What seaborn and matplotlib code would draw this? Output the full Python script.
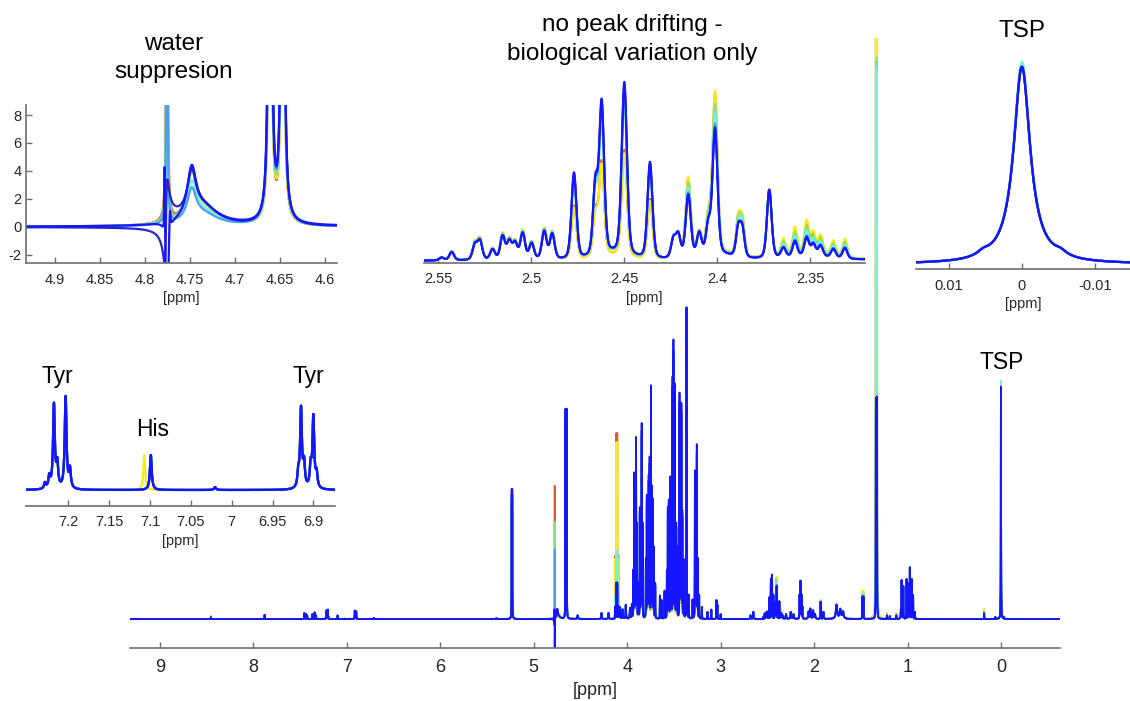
import numpy as np
import pandas as pd
import matplotlib
matplotlib.use("Agg")
import matplotlib.pyplot as plt
import seaborn as sns
from matplotlib.ticker import FixedLocator, FixedFormatter

sns.set_theme(style="white")
plt.rcParams["font.family"] = ["Liberation Sans", "DejaVu Sans"]
plt.rcParams["axes.unicode_minus"] = False
plt.rcParams["path.simplify"] = False

# ---------------- data ----------------
sample_names = ["S1", "S2", "S3", "S4", "S5", "S6", "S7"]
sample_colors = ["#e2592a", "#f5ee14", "#7ee08a", "#70f3e2", "#4c9ef2", "#2626c8", "#1515ff"]

# per-sample scale of each metabolite group (order = sample_names)
scale_base = [1, 1, 1, 1, 1, 1, 1]
scale_tsp = [1.0, 1.015, 1.02, 1.025, 1.0, 1.0, 1.0]
scale_glc = [0.75, 0.78, 0.85, 0.9, 0.93, 0.96, 1.0]
scale_lacd = [5.2, 5.0, 2.52, 2.48, 0.92, 0.95, 1.0]
scale_lacq = [5.1, 4.85, 1.7, 1.87, 0.9, 0.95, 1.0]
scale_hump = [0.97, 0.9, 0.92, 0.75, 0.63, 0.86, 1.0]
scale_gln = [0.62, 0.6, 0.88, 0.92, 0.95, 0.98, 1.0]
scale_glu = [1.28, 1.3, 1.2, 1.13, 1.05, 1.02, 1.0]
scale_mid3 = [1.6, 1.8, 1.5, 1.3, 1.1, 1.05, 1.0]
scale_mid4 = [1.1, 1.12, 1.08, 1.05, 1.02, 1.0, 1.0]
scale_ala = [1.1, 1.25, 1.1, 1.1, 1.0, 1.0, 1.0]
scale_minor = [1.5, 1.8, 1.3, 1.2, 1.0, 1.0, 1.0]
scale_his = [1.0, 1.0, 1.0, 1.02, 1.0, 1.0, 1.0]
scale_water = [58.6, 35.0, 42.7, 22.0, 30.6, 0.0, -40.0]
scale_wblue = [0, 0, 0, 0, 0, 0, 1.0]
his_shift = [0.0, 0.008, 0.0, 0.0, 0.0, 0.0, 0.0]
water_disp = [0, 0, 0, 0, 0, 6.0, 0]
water_disp_ppm = 4.7765
water_disp_width = 0.0015

# peak blocks: position [ppm], height (TSP = 100), half width [ppm], group
aro_ppm = [8.455, 7.88, 7.455, 7.44, 7.425, 7.37, 7.345, 7.33]
aro_h = [0.8, 1.8, 2.5, 2.2, 1.5, 2.0, 2.8, 1.5]
aro_w = [0.0015] * 8
aro_g = ["minor"] + ["base"] * 7

tyr_ppm = [7.2286, 7.2233, 7.2176, 7.2135, 7.2033, 7.198, 6.9184, 6.9151, 6.9114, 6.9033, 6.900, 6.896]
tyr_h = [0.25, 0.5, 3.6, 1.0, 3.95, 0.8, 0.6, 3.4, 1.0, 0.9, 3.05, 0.6]
tyr_w = [0.0013] * 12
tyr_g = ["base"] * 12

his_ppm = [7.099, 7.0204, 6.71, 5.40]
his_h = [1.5, 0.12, 0.5, 0.3]
his_w = [0.0013, 0.0015, 0.0015, 0.003]
his_g = ["his", "base", "base", "base"]

ano_ppm = [5.236, 5.230, 4.661, 4.647]
ano_h = [54, 54, 90, 90]
ano_w = [0.0012, 0.0012, 0.0011, 0.0011]
ano_g = ["glc"] * 4

wat_ppm = [4.7755, 4.778, 4.7722, 4.748, 4.735]
wat_h = [1.0, 6.0, 1.8, 3.5, 1.3]
wat_w = [0.0006, 0.0005, 0.0008, 0.006, 0.02]
wat_g = ["water", "wblue", "wblue", "hump", "hump"]

sm4_ppm = [4.53, 4.275, 4.20, 4.08, 4.05, 4.015, 3.97, 3.95]
sm4_h = [1.5, 2.5, 2.5, 5.0, 4.0, 6.0, 4.5, 6.0]
sm4_w = [0.004, 0.003, 0.003, 0.003, 0.003, 0.003, 0.003, 0.002]
sm4_g = ["base"] * 8

lacq_ppm = [4.1295, 4.1178, 4.1062, 4.0945]
lacq_h = [5.2, 15.5, 15.5, 5.2]
lacq_w = [0.0011] * 4
lacq_g = ["lacq"] * 4

ring_ppm = [3.935, 3.925, 3.915, 3.905, 3.895, 3.88, 3.865, 3.855, 3.845, 3.835,
            3.80, 3.79, 3.78, 3.77, 3.76, 3.745, 3.735, 3.725, 3.715, 3.70,
            3.65, 3.63, 3.60, 3.575, 3.565, 3.555, 3.54, 3.53, 3.515, 3.505,
            3.49, 3.475, 3.465, 3.44, 3.43, 3.42, 3.41, 3.395,
            3.275, 3.265, 3.255, 3.245]
ring_h = [20, 62, 30, 77, 40, 15, 47, 35, 83, 40,
          25, 52, 45, 60, 68, 99, 55, 50, 30, 15,
          10, 8, 12, 20, 47, 50, 60, 35, 102, 118,
          100, 40, 30, 96, 60, 91, 45, 25,
          63, 50, 74, 25]
ring_w = [0.0012] * 42
ring_g = ["glc"] * 42

oth_ppm = [3.365, 3.34, 3.30, 3.23, 3.20, 3.14, 3.10, 3.045, 3.035, 3.0, 2.68, 2.65]
oth_h = [134, 10, 8, 10, 5, 3, 4, 8, 6, 2, 1.5, 3]
oth_w = [0.0012] * 10 + [0.003, 0.003]
oth_g = ["base"] * 12

m4_ppm = [2.5482, 2.5428, 2.5303, 2.5276, 2.5208, 2.5154, 2.5118, 2.5087, 2.5046, 2.4998, 2.4930, 2.4887]
m4_h = [0.3, 0.9, 1.6, 2.0, 1.1, 2.5, 1.9, 1.7, 2.8, 1.7, 3.0, 2.7]
m4_w = [0.0015] * 12
m4_g = ["mid4"] * 12

gln_ppm = [2.4770, 2.4655, 2.4621, 2.4499, 2.4361, 2.456]
gln_h = [9.3, 7.5, 16.3, 18.6, 10.4, 0.6]
gln_w = [0.0016, 0.0015, 0.0016, 0.0017, 0.0016, 0.01]
gln_g = ["gln"] * 6

mb_ppm = [2.4235, 2.4209, 2.4096, 2.3719]
mb_h = [2.0, 2.4, 2.4, 7.4]
mb_w = [0.0015] * 4
mb_g = ["base"] * 4

glu_ppm = [2.4155, 2.4047, 2.4011, 2.3886, 2.3864, 2.40]
glu_h = [6.6, 3.0, 13.3, 3.0, 2.9, 0.5]
glu_w = [0.0016, 0.0015, 0.0016, 0.0014, 0.0014, 0.012]
glu_g = ["glu"] * 6

m3_ppm = [2.3643, 2.3581, 2.3518, 2.3482, 2.3443, 2.3374, 2.3312, 2.35]
m3_h = [1.0, 1.6, 1.9, 1.2, 1.1, 0.9, 1.1, 0.4]
m3_w = [0.0015] * 7 + [0.015]
m3_g = ["mid3"] * 8

low_ppm = [2.30, 2.25, 2.22, 2.155, 2.145, 2.135, 2.125, 2.06, 2.04, 2.01, 1.99, 1.93, 1.90, 1.76, 1.72, 1.69]
low_h = [2, 3, 2, 10, 16, 10, 5, 3, 4.3, 3.5, 2, 7.3, 3, 6, 4, 3]
low_w = [0.004, 0.004, 0.004, 0.0015, 0.0015, 0.0015, 0.0015, 0.004, 0.004, 0.004, 0.004,
         0.0015, 0.003, 0.008, 0.008, 0.008]
low_g = ["base"] * 11 + ["mid4"] + ["base"] * 4

lac_ppm = [1.4835, 1.4715, 1.3385, 1.3268]
lac_h = [9.7, 9.7, 95, 95]
lac_w = [0.0012] * 4
lac_g = ["ala", "ala", "lacd", "lacd"]

bca_ppm = [1.22, 1.19, 1.12, 1.07, 1.063, 1.045, 1.01, 0.99, 0.975, 0.955, 0.94, 0.92]
bca_h = [1.5, 1.2, 1.5, 4, 16, 14, 17, 15, 22, 17, 10, 3]
bca_w = [0.0015, 0.0015, 0.0015, 0.003] + [0.0013] * 8
bca_g = ["minor", "base", "minor", "base", "base", "base", "base", "base", "base", "base", "base", "base"]

ref_ppm = [0.18, 0.06, 0.0053, 0.0, -0.0053, -0.03]
ref_h = [2.5, 0.8, 2.0, 100, 2.0, 0.8]
ref_w = [0.0012, 0.0012, 0.0010, 0.00137, 0.0010, 0.0012]
ref_g = ["minor", "base", "base", "tsp", "base", "base"]

# (ppm, height, width, group, Lorentzian fraction of the line shape)
blocks = [
    (aro_ppm, aro_h, aro_w, aro_g, 1.0), (tyr_ppm, tyr_h, tyr_w, tyr_g, 1.0),
    (his_ppm, his_h, his_w, his_g, 1.0), (ano_ppm, ano_h, ano_w, ano_g, 1.0),
    (wat_ppm, wat_h, wat_w, wat_g, 1.0), (sm4_ppm, sm4_h, sm4_w, sm4_g, 1.0),
    (lacq_ppm, lacq_h, lacq_w, lacq_g, 1.0), (ring_ppm, ring_h, ring_w, ring_g, 1.0),
    (oth_ppm, oth_h, oth_w, oth_g, 1.0), (m4_ppm, m4_h, m4_w, m4_g, 0.35),
    (gln_ppm, gln_h, gln_w, gln_g, 0.3), (mb_ppm, mb_h, mb_w, mb_g, 0.35),
    (glu_ppm, glu_h, glu_w, glu_g, 0.3), (m3_ppm, m3_h, m3_w, m3_g, 0.35),
    (low_ppm, low_h, low_w, low_g, 1.0), (lac_ppm, lac_h, lac_w, lac_g, 1.0),
    (bca_ppm, bca_h, bca_w, bca_g, 1.0), (ref_ppm, ref_h, ref_w, ref_g, 1.0),
]
for b in blocks:
    assert len(b[0]) == len(b[1]) == len(b[2]) == len(b[3]), b[0]
peak_ppm = [v for b in blocks for v in b[0]]
peak_height = [v for b in blocks for v in b[1]]
peak_width = [v for b in blocks for v in b[2]]
peak_group = [v for b in blocks for v in b[3]]
peak_eta = [b[4] for b in blocks for _ in b[0]]

group_scale = {
    "base": scale_base, "tsp": scale_tsp, "glc": scale_glc, "lacd": scale_lacd,
    "lacq": scale_lacq, "hump": scale_hump, "gln": scale_gln, "glu": scale_glu,
    "mid3": scale_mid3, "mid4": scale_mid4, "ala": scale_ala, "minor": scale_minor,
    "his": scale_his, "water": scale_water, "wblue": scale_wblue,
}

# tick values / labels
main_ticks = [9, 8, 7, 6, 5, 4, 3, 2, 1, 0]
main_ticklabels = ["9", "8", "7", "6", "5", "4", "3", "2", "1", "0"]
water_xticks = [4.9, 4.85, 4.8, 4.75, 4.7, 4.65, 4.6]
water_xticklabels = ["4.9", "4.85", "4.8", "4.75", "4.7", "4.65", "4.6"]
water_yticks = [-2, 0, 2, 4, 6, 8]
water_yticklabels = ["-2", "0", "2", "4", "6", "8"]
mid_ticks = [2.55, 2.5, 2.45, 2.4, 2.35]
mid_ticklabels = ["2.55", "2.5", "2.45", "2.4", "2.35"]
tsp_ticks = [0.01, 0.0, -0.01]
tsp_ticklabels = ["0.01", "0", "-0.01"]
tyr_ticks = [7.2, 7.15, 7.1, 7.05, 7.0, 6.95, 6.9]
tyr_ticklabels = ["7.2", "7.15", "7.1", "7.05", "7", "6.95", "6.9"]


def spectrum(x, k):
    y = np.zeros_like(x)
    for p, h, w, g, eta in zip(peak_ppm, peak_height, peak_width, peak_group, peak_eta):
        pk = p + (his_shift[k] if g == "his" else 0.0)
        u2 = ((x - pk) / w) ** 2
        shape = eta / (1.0 + u2)
        if eta < 1.0:
            shape = shape + (1.0 - eta) * np.exp(-np.log(2.0) * u2)
        y += h * group_scale[g][k] * shape
    d = x - water_disp_ppm
    y += water_disp[k] * water_disp_width * (-d) / (d ** 2 + water_disp_width ** 2)
    return y


def frame(x):
    parts = []
    for k, name in enumerate(sample_names):
        parts.append(pd.DataFrame({"ppm": x, "intensity": spectrum(x, k), "sample": name}))
    return pd.concat(parts, ignore_index=True)


# ---------------- figure ----------------
W, H = 1130, 701
fig = plt.figure(figsize=(W / 100, H / 100), dpi=100)
fig.patch.set_facecolor("white")


def px_axes(l, t, r, b):
    ax = fig.add_axes([l / W, 1 - b / H, (r - l) / W, (b - t) / H])
    ax.set_facecolor("none")
    return ax


axis_col = "#6e6e6e"
label_col = "#262626"


def style(ax, ticks, labels, fs, pad, left=False, yt=None, ytl=None):
    for s in ["top", "right"]:
        ax.spines[s].set_visible(False)
    ax.spines["left"].set_visible(left)
    ax.spines["bottom"].set_color(axis_col)
    ax.spines["bottom"].set_linewidth(1.2)
    ax.xaxis.set_major_locator(FixedLocator(ticks))
    ax.xaxis.set_major_formatter(FixedFormatter(labels))
    ax.tick_params(axis="x", direction="in", length=4, width=1.0, color=axis_col,
                   labelsize=fs, labelcolor=label_col, pad=pad, bottom=True)
    if left:
        ax.spines["left"].set_color(axis_col)
        ax.spines["left"].set_linewidth(1.2)
        ax.yaxis.set_major_locator(FixedLocator(yt))
        ax.yaxis.set_major_formatter(FixedFormatter(ytl))
        ax.tick_params(axis="y", direction="in", length=4, width=1.0, color=axis_col,
                       labelsize=fs, labelcolor=label_col, pad=3, left=True)
    else:
        ax.set_yticks([])
    ax.set_ylabel("")
    ax.grid(False)


def draw(ax, x, lw):
    df = frame(x)
    sns.lineplot(data=df, x="ppm", y="intensity", hue="sample", hue_order=sample_names,
                 palette=sample_colors, estimator=None, sort=False, legend=False,
                 linewidth=lw, ax=ax)


# main spectrum
ax_main = px_axes(130, 38, 1060, 648)
main_xlim = (9.321, -0.632)
draw(ax_main, np.arange(main_xlim[0], main_xlim[1], -0.0002), 1.3)
ax_main.set_xlim(*main_xlim)
ax_main.set_ylim(-12.5, 250.4)
style(ax_main, main_ticks, main_ticklabels, 13, 8)
ax_main.set_xlabel("[ppm]", fontsize=13, color=label_col, labelpad=4)

# water suppression inset
ax_w = px_axes(26, 105, 336.7, 263.3)
w_xlim = (4.932, 4.587)
draw(ax_w, np.linspace(w_xlim[0], w_xlim[1], 8000), 1.6)
ax_w.set_xlim(*w_xlim)
ax_w.set_ylim(-2.62, 8.72)
style(ax_w, water_xticks, water_xticklabels, 10.5, 7, left=True, yt=water_yticks, ytl=water_yticklabels)
ax_w.set_xlabel("[ppm]", fontsize=10.5, color=label_col, labelpad=3)

# middle inset
ax_m = px_axes(424, 75, 865, 262.7)
m_xlim = (2.5577, 2.3204)
draw(ax_m, np.linspace(m_xlim[0], m_xlim[1], 6000), 1.5)
ax_m.set_xlim(*m_xlim)
ax_m.set_ylim(-0.2, 20.0)
style(ax_m, mid_ticks, mid_ticklabels, 10.5, 7)
ax_m.set_xlabel("[ppm]", fontsize=10.5, color=label_col, labelpad=3)

# TSP inset
ax_t = px_axes(916, 60, 1130, 269)
t_xlim = (0.0145, -0.0148)
draw(ax_t, np.linspace(t_xlim[0], t_xlim[1], 3000), 1.6)
ax_t.set_xlim(*t_xlim)
ax_t.set_ylim(-2.5, 103.6)
style(ax_t, tsp_ticks, tsp_ticklabels, 10.5, 7)
ax_t.set_xlabel("[ppm]", fontsize=10.5, color=label_col, labelpad=3)

# Tyr / His inset
ax_y = px_axes(26, 390, 335, 505.7)
y_xlim = (7.2518, 6.8735)
draw(ax_y, np.linspace(y_xlim[0], y_xlim[1], 6000), 1.6)
ax_y.set_xlim(*y_xlim)
ax_y.set_ylim(-0.675, 4.3)
style(ax_y, tyr_ticks, tyr_ticklabels, 10.5, 7)
ax_y.set_xlabel("[ppm]", fontsize=10.5, color=label_col, labelpad=3)

# annotations
title_texts = ["water\nsuppresion", "no peak drifting -\nbiological variation only", "TSP"]
title_xy = [(174, 58), (632, 39.5), (1022, 31)]
for t, (x, y) in zip(title_texts, title_xy):
    fig.text(x / W, 1 - y / H, t, ha="center", va="center", multialignment="center",
             fontsize=17.5, color="black", linespacing=1.36)

peak_labels = ["Tyr", "His", "Tyr", "TSP"]
peak_label_xy = [(57, 377), (153, 430), (308, 377), (1002, 362)]
for t, (x, y) in zip(peak_labels, peak_label_xy):
    fig.text(x / W, 1 - y / H, t, ha="center", va="center", fontsize=16.5, color="black")

fig.savefig("out.png", dpi=100, facecolor="white")
